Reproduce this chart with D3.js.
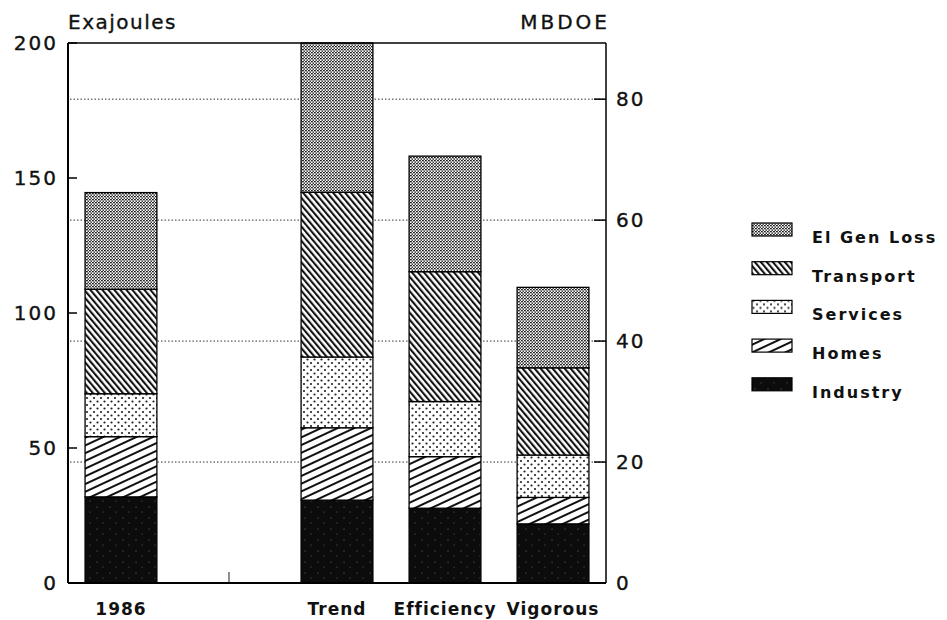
<!DOCTYPE html>
<html>
<head>
<meta charset="utf-8">
<script src="https://cdn.jsdelivr.net/npm/d3@7"></script>
<style>
  body { margin: 0; background: #fff; }
  svg { display: block; }
  text { font-family: "DejaVu Sans", sans-serif; fill: #111; }
  .num { stroke: #111; stroke-width: 0.35px; }
</style>
</head>
<body>
<div id="chart"></div>
<script>
// Energy demand by sector, stacked bars (Exajoules, with MBDOE on the right)

const slots = ['1986', '', 'Trend', 'Efficiency', 'Vigorous'];
const scenarios = ['1986', 'Trend', 'Efficiency', 'Vigorous'];
const sectors = ['Industry', 'Homes', 'Services', 'Transport', 'El Gen Loss'];

const industry  = [31.9, 30.7, 27.7, 21.9];
const homes     = [22.3, 26.8, 19.1, 9.8];
const services  = [15.9, 26.2, 20.4, 15.7];
const transport = [38.7, 61.0, 48.1, 32.3];
const elGenLoss = [35.8, 55.3, 42.8, 29.8];

const ejTicks = [0, 50, 100, 150, 200];
const mbdoeTicks = [0, 20, 40, 60, 80];
const ejPerMbdoe = 2.24;

const width = 947, height = 620;
const margin = { top: 43, right: 341, bottom: 37, left: 68 };
const plotW = width - margin.left - margin.right;
const plotH = height - margin.top - margin.bottom;

const rows = scenarios.map((s, i) => ({
  scenario: s,
  'Industry': industry[i],
  'Homes': homes[i],
  'Services': services[i],
  'Transport': transport[i],
  'El Gen Loss': elGenLoss[i]
}));

const svg = d3.select('#chart').append('svg')
  .attr('width', width)
  .attr('height', height);

// fill patterns for each sector
const defs = svg.append('defs');

const pGen = defs.append('pattern').attr('id', 'p-gen')
  .attr('patternUnits', 'userSpaceOnUse').attr('width', 3).attr('height', 3);
pGen.append('rect').attr('width', 3).attr('height', 3).attr('fill', '#fff');
pGen.append('rect').attr('x', 0).attr('y', 0).attr('width', 1.8).attr('height', 1.3).attr('fill', '#1a1a1a');
pGen.append('rect').attr('x', 1.5).attr('y', 1.5).attr('width', 1.8).attr('height', 1.3).attr('fill', '#1a1a1a');

const pTrans = defs.append('pattern').attr('id', 'p-trans')
  .attr('patternUnits', 'userSpaceOnUse').attr('width', 4.6).attr('height', 5)
  .attr('patternTransform', 'rotate(-40)');
pTrans.append('rect').attr('width', 4.6).attr('height', 5).attr('fill', '#fff');
pTrans.append('rect').attr('x', 0).attr('width', 2.1).attr('height', 5).attr('fill', '#111');

const pServ = defs.append('pattern').attr('id', 'p-serv')
  .attr('patternUnits', 'userSpaceOnUse').attr('width', 7).attr('height', 7);
pServ.append('rect').attr('width', 7).attr('height', 7).attr('fill', '#fff');
pServ.append('circle').attr('cx', 1.5).attr('cy', 1.5).attr('r', 1.1).attr('fill', '#222');
pServ.append('circle').attr('cx', 5).attr('cy', 5).attr('r', 1.1).attr('fill', '#222');

const pHome = defs.append('pattern').attr('id', 'p-home')
  .attr('patternUnits', 'userSpaceOnUse').attr('width', 7).attr('height', 7)
  .attr('patternTransform', 'rotate(65)');
pHome.append('rect').attr('width', 7).attr('height', 7).attr('fill', '#fff');
pHome.append('rect').attr('x', 0).attr('width', 2).attr('height', 7).attr('fill', '#111');

const pInd = defs.append('pattern').attr('id', 'p-ind')
  .attr('patternUnits', 'userSpaceOnUse').attr('width', 13).attr('height', 11);
pInd.append('rect').attr('width', 13).attr('height', 11).attr('fill', '#0c0c0c');
pInd.append('circle').attr('cx', 3).attr('cy', 2).attr('r', 0.5).attr('fill', '#888');
pInd.append('circle').attr('cx', 9).attr('cy', 7).attr('r', 0.5).attr('fill', '#777');

const fillMap = {
  'Industry': 'url(#p-ind)',
  'Homes': 'url(#p-home)',
  'Services': 'url(#p-serv)',
  'Transport': 'url(#p-trans)',
  'El Gen Loss': 'url(#p-gen)'
};

const g = svg.append('g')
  .attr('transform', `translate(${margin.left},${margin.top})`);

const x = d3.scaleBand().domain(slots).range([0, plotW])
  .paddingInner(0.335).paddingOuter(0.158);
const y = d3.scaleLinear().domain([0, 200]).range([plotH, 0]);
const y2 = d3.scaleLinear().domain([0, 200 / ejPerMbdoe]).range([plotH, 0]);

// dotted gridlines at the MBDOE ticks
g.append('g')
  .selectAll('line')
  .data(mbdoeTicks.filter(d => d > 0))
  .join('line')
  .attr('x1', 2).attr('x2', plotW)
  .attr('y1', d => y2(d)).attr('y2', d => y2(d))
  .attr('stroke', '#333')
  .attr('stroke-width', 1)
  .attr('stroke-dasharray', '1.5,2');

// bottom ticks (only the empty slot shows)
g.append('g')
  .selectAll('line')
  .data(slots)
  .join('line')
  .attr('x1', d => x(d) + x.bandwidth() / 2)
  .attr('x2', d => x(d) + x.bandwidth() / 2)
  .attr('y1', plotH).attr('y2', plotH - 11)
  .attr('stroke', '#222').attr('stroke-width', 1);

const stack = d3.stack().keys(sectors);
const series = stack(rows);

g.append('g')
  .selectAll('g')
  .data(series)
  .join('g')
  .attr('fill', d => fillMap[d.key])
  .selectAll('rect')
  .data(d => d)
  .join('rect')
  .attr('x', d => x(d.data.scenario))
  .attr('width', x.bandwidth())
  .attr('y', d => y(d[1]))
  .attr('height', d => y(d[0]) - y(d[1]))
  .attr('stroke', '#000')
  .attr('stroke-width', 1.3);

// frame: left, bottom, right, top
g.append('line').attr('x1', 0).attr('x2', 0).attr('y1', 0).attr('y2', plotH)
  .attr('stroke', '#000').attr('stroke-width', 2);
g.append('line').attr('x1', 0).attr('x2', plotW).attr('y1', plotH).attr('y2', plotH)
  .attr('stroke', '#000').attr('stroke-width', 2);
g.append('line').attr('x1', plotW).attr('x2', plotW).attr('y1', 0).attr('y2', plotH)
  .attr('stroke', '#000').attr('stroke-width', 1.5);
g.append('line').attr('x1', 0).attr('x2', plotW).attr('y1', 0).attr('y2', 0)
  .attr('stroke', '#000').attr('stroke-width', 1.5);

// left axis
const leftAxis = g.append('g');
leftAxis.selectAll('line')
  .data(ejTicks)
  .join('line')
  .attr('x1', 0).attr('x2', 9)
  .attr('y1', d => y(d)).attr('y2', d => y(d))
  .attr('stroke', '#000').attr('stroke-width', 1.5);
leftAxis.selectAll('text')
  .data(ejTicks)
  .join('text')
  .attr('class', 'num')
  .attr('x', -10)
  .attr('y', d => y(d))
  .attr('dy', '0.36em')
  .attr('text-anchor', 'end')
  .attr('font-size', '20px')
  .attr('letter-spacing', '2px')
  .text(d => d);

// right axis
const rightAxis = g.append('g');
rightAxis.selectAll('line')
  .data(mbdoeTicks)
  .join('line')
  .attr('x1', plotW - 12).attr('x2', plotW)
  .attr('y1', d => y2(d)).attr('y2', d => y2(d))
  .attr('stroke', '#000').attr('stroke-width', 1.5);
rightAxis.selectAll('text')
  .data(mbdoeTicks)
  .join('text')
  .attr('class', 'num')
  .attr('x', plotW + 10)
  .attr('y', d => y2(d))
  .attr('dy', '0.36em')
  .attr('font-size', '20px')
  .attr('letter-spacing', '2px')
  .text(d => d);

// category labels
g.append('g')
  .selectAll('text')
  .data(scenarios)
  .join('text')
  .attr('x', d => x(d) + x.bandwidth() / 2)
  .attr('y', plotH + 32)
  .attr('text-anchor', 'middle')
  .attr('font-size', '17px')
  .attr('font-weight', 'bold')
  .attr('letter-spacing', '1px')
  .text(d => d);

// unit titles
svg.append('text')
  .attr('class', 'num')
  .attr('x', margin.left)
  .attr('y', 29)
  .attr('font-size', '20px')
  .attr('letter-spacing', '1.5px')
  .text('Exajoules');

svg.append('text')
  .attr('class', 'num')
  .attr('x', margin.left + plotW + 4)
  .attr('y', 29)
  .attr('text-anchor', 'end')
  .attr('font-size', '20px')
  .attr('letter-spacing', '3px')
  .text('MBDOE');

// legend, top to bottom
const legendOrder = sectors.slice().reverse();
const legend = svg.append('g')
  .selectAll('g')
  .data(legendOrder)
  .join('g')
  .attr('transform', (d, i) => `translate(752,${243 + i * 38.7})`);

legend.append('rect')
  .attr('x', 0).attr('y', -20)
  .attr('width', 40).attr('height', 13)
  .attr('fill', d => fillMap[d])
  .attr('stroke', '#000')
  .attr('stroke-width', 1.2);

legend.append('text')
  .attr('x', 60).attr('y', 0)
  .attr('font-size', '16px')
  .attr('font-weight', 'bold')
  .attr('letter-spacing', '2px')
  .text(d => d);
</script>
</body>
</html>
